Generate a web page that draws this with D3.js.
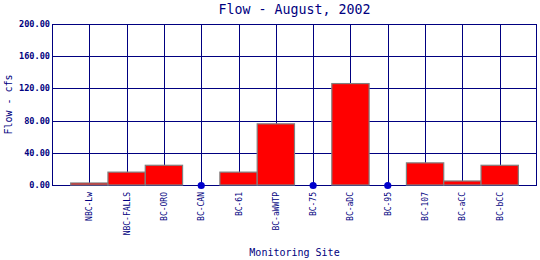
<!DOCTYPE html>
<html>
<head>
<meta charset="utf-8">
<script src="https://d3js.org/d3.v7.min.js"></script>
<style>
  body { margin: 0; background: #fff; }
  text { font-family: "DejaVu Sans Mono", monospace; fill: #000080; }
</style>
</head>
<body>
<script>
// sites along the x axis
var sites = ["NBC-Lw", "NBC-FALLS", "BC-ORO", "BC-CAN", "BC-61", "BC-aWWTP",
             "BC-75", "BC-aDC", "BC-95", "BC-107", "BC-aCC", "BC-bCC"];
// flow in cfs, null = no measurement (drawn as dot on zero line)
var flows = [2.5, 16, 24.5, null, 16, 76, null, 126, null, 27.5, 5, 24.5];
var yTicks = [0, 40, 80, 120, 160, 200];

var width = 540, height = 260;
var pLeft = 52, pRight = 537, pTop = 24, pBottom = 185;

var svg = d3.select("body").append("svg")
  .attr("width", width).attr("height", height);

var x = d3.scalePoint().domain(sites).range([pLeft, pRight]).padding(1);
var y = d3.scaleLinear().domain([0, 200]).range([pBottom, pTop]);
var step = x.step();

// grid
var grid = svg.append("g").attr("stroke", "#000080").attr("stroke-width", 1);
grid.selectAll("line.h").data(yTicks).enter().append("line")
  .attr("x1", pLeft).attr("x2", pRight)
  .attr("y1", function(d) { return Math.round(y(d)) + 0.5; })
  .attr("y2", function(d) { return Math.round(y(d)) + 0.5; });
grid.selectAll("line.v").data(sites).enter().append("line")
  .attr("x1", function(d) { return Math.round(x(d)) + 0.5; })
  .attr("x2", function(d) { return Math.round(x(d)) + 0.5; })
  .attr("y1", pTop).attr("y2", pBottom);
grid.append("line").attr("x1", pLeft + 0.5).attr("x2", pLeft + 0.5).attr("y1", pTop).attr("y2", pBottom);
grid.append("line").attr("x1", pRight - 0.5).attr("x2", pRight - 0.5).attr("y1", pTop).attr("y2", pBottom);

// bars
svg.selectAll("rect.bar").data(sites.filter(function(d, i) { return flows[i] != null; }))
  .enter().append("rect")
  .attr("x", function(d) { return x(d) - step / 2; })
  .attr("width", step)
  .attr("y", function(d) { return y(flows[sites.indexOf(d)]); })
  .attr("height", function(d) { return pBottom - y(flows[sites.indexOf(d)]); })
  .attr("fill", "#ff0000")
  .attr("stroke", "#808080")
  .attr("stroke-width", 1.2);

// missing values
svg.selectAll("circle").data(sites.filter(function(d, i) { return flows[i] == null; }))
  .enter().append("circle")
  .attr("cx", function(d) { return x(d); })
  .attr("cy", y(0) + 0.5)
  .attr("r", 3.6)
  .attr("fill", "#0000cc");

// y tick labels
svg.selectAll("text.yt").data(yTicks).enter().append("text")
  .attr("x", pLeft - 2).attr("y", function(d) { return y(d); })
  .attr("dy", "0.35em")
  .attr("text-anchor", "end")
  .style("font-size", "8.6px")
  .style("font-weight", "bold")
  .text(function(d) { return d3.format(".2f")(d); });

// x tick labels
svg.selectAll("text.xt").data(sites).enter().append("text")
  .attr("transform", function(d) { return "translate(" + (x(d) + 3) + "," + 192 + ") rotate(-90)"; })
  .attr("text-anchor", "end")
  .style("font-size", "8px")
  .text(function(d) { return d; });

// titles
svg.append("text")
  .attr("x", (pLeft + pRight) / 2).attr("y", 14)
  .attr("text-anchor", "middle")
  .style("font-size", "13.3px")
  .text("Flow - August, 2002");

svg.append("text")
  .attr("x", (pLeft + pRight) / 2).attr("y", 256)
  .attr("text-anchor", "middle")
  .style("font-size", "10px")
  .text("Monitoring Site");

svg.append("text")
  .attr("transform", "translate(12," + (pTop + pBottom) / 2 + ") rotate(-90)")
  .attr("text-anchor", "middle")
  .style("font-size", "10px")
  .text("Flow - cfs");
</script>
</body>
</html>
